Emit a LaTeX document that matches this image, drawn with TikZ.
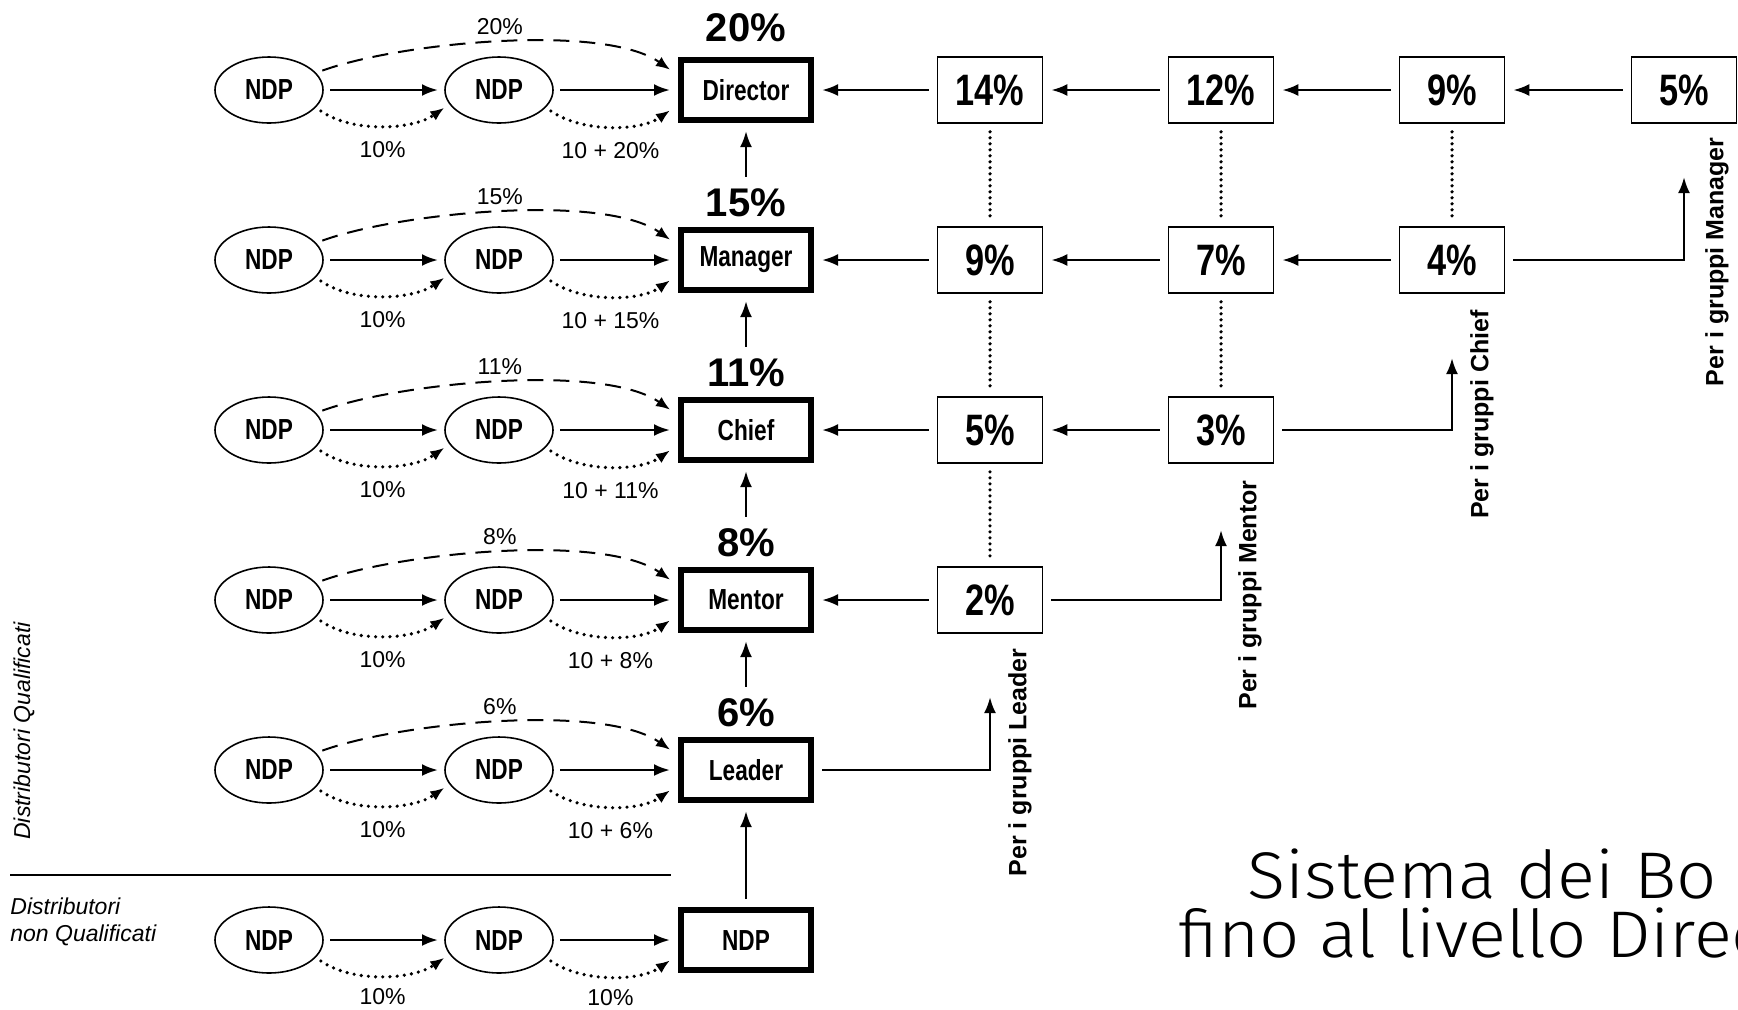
\documentclass[tikz,border=0pt]{standalone}
\usepackage{fontspec}
\setmainfont{Liberation Sans}
\newfontfamily\narrowfont[FakeStretch=0.78]{Liberation Sans}
\newfontfamily\titlefont[FakeStretch=1.07]{Fira Sans Light}
\usetikzlibrary{arrows.meta,shapes.geometric}

\begin{document}
\begin{tikzpicture}[x=0.5pt, y=-0.5pt,
  ndp/.style={ellipse, draw, line width=0.8pt, minimum width=54pt, minimum height=33pt, inner sep=0pt, outer sep=3.5pt, font=\narrowfont\bfseries\fontsize{14.5}{16}\selectfont},
  lvl/.style={rectangle, draw, line width=3.3pt, minimum width=65pt, minimum height=30pt, inner sep=0pt, outer sep=5.5pt, font=\narrowfont\bfseries\fontsize{14.5}{16}\selectfont},
  pct/.style={rectangle, draw, line width=0.8pt, minimum width=52.5pt, minimum height=33pt, inner sep=0pt, outer sep=4.4pt, font=\narrowfont\bfseries\fontsize{22}{24}\selectfont},
  big/.style={inner sep=2pt, outer sep=4pt, font=\bfseries\fontsize{20}{22}\selectfont},
  small/.style={inner sep=1pt, font=\fontsize{11.5}{13}\selectfont},
  grp/.style={rotate=90, anchor=east, inner sep=0pt, font=\bfseries\fontsize{12.5}{14}\selectfont},
  arr/.style={-{Latex[length=8pt,width=6pt]}, line width=1.3pt},
  dasharr/.style={-{Latex[length=7pt,width=5.5pt]}, line width=1pt, dash pattern=on 8pt off 5pt, looseness=0.6},
  dotarr/.style={-{Latex[length=7pt,width=5.5pt]}, line width=1.8pt, dash pattern=on 0pt off 3.6pt, line cap=round, looseness=0.8},
  dotline/.style={line width=1.8pt, dash pattern=on 0pt off 3pt, line cap=round}]
\useasboundingbox (0,0) rectangle (1738,1009);

\node[ndp] (a1) at (269,90) {NDP};
\node[ndp] (b1) at (499,90) {NDP};
\node[lvl] (m1) at (746,90) {Director};
\node[big] (l1) at (746,28) {20\%};
\draw[arr] (a1) -- (b1);
\draw[arr] (b1) -- (m1);
\draw[dasharr] (a1.20) to[out=20,in=145] node[small, above=2pt] {20\%} (m1.165);
\draw[dotarr] (a1.-22) to[out=-35,in=-145] node[small, below=6pt] {10\%} (b1.-162);
\draw[dotarr] (b1.-22) to[out=-35,in=-145] node[small, below=6pt] {10 + 20\%} (m1.-165);

\node[ndp] (a2) at (269,260) {NDP};
\node[ndp] (b2) at (499,260) {NDP};
\node[lvl] (m2) at (746,260) {Manager};
\node[big] (l2) at (746,203) {15\%};
\draw[arr] (a2) -- (b2);
\draw[arr] (b2) -- (m2);
\draw[dasharr] (a2.20) to[out=20,in=145] node[small, above=2pt] {15\%} (m2.165);
\draw[dotarr] (a2.-22) to[out=-35,in=-145] node[small, below=6pt] {10\%} (b2.-162);
\draw[dotarr] (b2.-22) to[out=-35,in=-145] node[small, below=6pt] {10 + 15\%} (m2.-165);

\node[ndp] (a3) at (269,430) {NDP};
\node[ndp] (b3) at (499,430) {NDP};
\node[lvl] (m3) at (746,430) {Chief};
\node[big] (l3) at (746,373) {11\%};
\draw[arr] (a3) -- (b3);
\draw[arr] (b3) -- (m3);
\draw[dasharr] (a3.20) to[out=20,in=145] node[small, above=2pt] {11\%} (m3.165);
\draw[dotarr] (a3.-22) to[out=-35,in=-145] node[small, below=6pt] {10\%} (b3.-162);
\draw[dotarr] (b3.-22) to[out=-35,in=-145] node[small, below=6pt] {10 + 11\%} (m3.-165);

\node[ndp] (a4) at (269,600) {NDP};
\node[ndp] (b4) at (499,600) {NDP};
\node[lvl] (m4) at (746,600) {Mentor};
\node[big] (l4) at (746,543) {8\%};
\draw[arr] (a4) -- (b4);
\draw[arr] (b4) -- (m4);
\draw[dasharr] (a4.20) to[out=20,in=145] node[small, above=2pt] {8\%} (m4.165);
\draw[dotarr] (a4.-22) to[out=-35,in=-145] node[small, below=6pt] {10\%} (b4.-162);
\draw[dotarr] (b4.-22) to[out=-35,in=-145] node[small, below=6pt] {10 + 8\%} (m4.-165);

\node[ndp] (a5) at (269,770) {NDP};
\node[ndp] (b5) at (499,770) {NDP};
\node[lvl] (m5) at (746,770) {Leader};
\node[big] (l5) at (746,713) {6\%};
\draw[arr] (a5) -- (b5);
\draw[arr] (b5) -- (m5);
\draw[dasharr] (a5.20) to[out=20,in=145] node[small, above=2pt] {6\%} (m5.165);
\draw[dotarr] (a5.-22) to[out=-35,in=-145] node[small, below=6pt] {10\%} (b5.-162);
\draw[dotarr] (b5.-22) to[out=-35,in=-145] node[small, below=6pt] {10 + 6\%} (m5.-165);

\node[ndp] (a6) at (269,940) {NDP};
\node[ndp] (b6) at (499,940) {NDP};
\node[lvl] (m6) at (746,940) {NDP};
\draw[arr] (a6) -- (b6);
\draw[arr] (b6) -- (m6);
\draw[dotarr] (a6.-22) to[out=-35,in=-145] node[small, below=4.5pt] {10\%} (b6.-162);
\draw[dotarr] (b6.-22) to[out=-35,in=-145] node[small, below=4.5pt] {10\%} (m6.-165);

\draw[arr] (l2) -- (m1);
\draw[arr] (l3) -- (m2);
\draw[arr] (l4) -- (m3);
\draw[arr] (l5) -- (m4);
\draw[arr] (m6) -- (m5);

\node[pct] (p11) at (990,90) {14\%};
\node[pct] (p12) at (1221,90) {12\%};
\node[pct] (p13) at (1452,90) {9\%};
\node[pct] (p14) at (1684,90) {5\%};
\node[pct] (p21) at (990,260) {9\%};
\node[pct] (p22) at (1221,260) {7\%};
\node[pct] (p23) at (1452,260) {4\%};
\node[pct] (p31) at (990,430) {5\%};
\node[pct] (p32) at (1221,430) {3\%};
\node[pct] (p41) at (990,600) {2\%};

\draw[arr] (p14) -- (p13);
\draw[arr] (p13) -- (p12);
\draw[arr] (p12) -- (p11);
\draw[arr] (p11) -- (m1);
\draw[arr] (p23) -- (p22);
\draw[arr] (p22) -- (p21);
\draw[arr] (p21) -- (m2);
\draw[arr] (p32) -- (p31);
\draw[arr] (p31) -- (m3);
\draw[arr] (p41) -- (m4);

\draw[dotline] (p11) -- (p21);
\draw[dotline] (p21) -- (p31);
\draw[dotline] (p31) -- (p41);
\draw[dotline] (p12) -- (p22);
\draw[dotline] (p22) -- (p32);
\draw[dotline] (p13) -- (p23);

\coordinate (up5) at (990,697);
\coordinate (up4) at (1221,530);
\coordinate (up3) at (1452,358);
\coordinate (up2) at (1684,177);
\draw[arr] (m5) -| (up5);
\draw[arr] (p41) -| (up4);
\draw[arr] (p32) -| (up3);
\draw[arr] (p23) -| (up2);

\node[grp] (g5) at (1020,648) {Per i gruppi Leader};
\node[grp] (g4) at (1250,480) {Per i gruppi Mentor};
\node[grp] (g3) at (1482,310) {Per i gruppi Chief};
\node[grp] (g2) at (1717,137) {Per i gruppi Manager};

\node[rotate=90, anchor=west, inner sep=0pt, font=\itshape\fontsize{11.5}{13}\selectfont] (dq) at (24,840) {Distributori Qualificati};
\draw[line width=1.4pt] (10,875) -- (671,875);
\node[anchor=north west, align=left, inner sep=0pt, font=\itshape\fontsize{11.5}{13.5}\selectfont] (dn) at (10,897) {Distributori\\non Qualificati};

\node[anchor=base west, inner sep=0pt, font=\titlefont\fontsize{33}{36}\selectfont] (ttl1) at (1247,898) {Sistema dei Bo};
\node[anchor=base west, inner sep=0pt, font=\titlefont\fontsize{33}{36}\selectfont] (ttl2) at (1178,957) {fino al livello Direc};
\end{tikzpicture}
\end{document}
